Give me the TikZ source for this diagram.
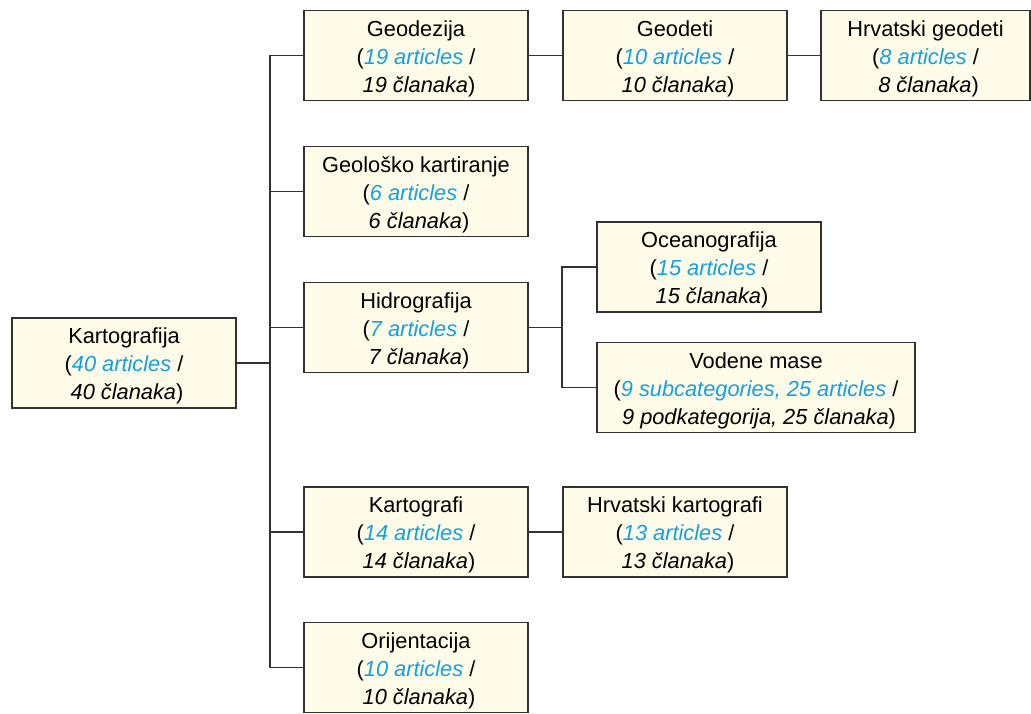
\documentclass[tikz,border=0pt]{standalone}
\usepackage{fontspec}
\setmainfont{Liberation Sans}
\usepackage{xcolor}
\definecolor{artblue}{RGB}{20,160,225}
\definecolor{boxfill}{RGB}{254,251,232}
\definecolor{edgegray}{RGB}{50,50,50}
\newcommand{\blu}[1]{\textcolor{artblue}{\textit{#1}}}
\newcommand{\cattext}[3]{\rule{0pt}{11pt}#1\\(\blu{#2} /\\~\textit{#3})}

\begin{document}
\begin{tikzpicture}[x=0.5pt,y=-0.5pt,
    catbox/.style={draw=edgegray,line width=0.6pt,fill=boxfill,inner sep=0pt,
        minimum width=112pt,minimum height=45pt,align=center,
        font=\fontsize{10.9}{14}\selectfont},
    link/.style={draw=edgegray,line width=0.7pt}]
        \useasboundingbox (0,0) rectangle (1031,713);

        \coordinate (J1) at (270,363);
        \coordinate (J2) at (562,327.5);

        \node[catbox] (kart)  at (124,363)   {\cattext{Kartografija}{40 articles}{40 članaka}};
        \node[catbox] (geod)  at (416,55.5)  {\cattext{Geodezija}{19 articles}{19 članaka}};
        \node[catbox] (geol)  at (416,191.5) {\cattext{Geološko kartiranje}{6 articles}{6 članaka}};
        \node[catbox] (hidro) at (416,327.5) {\cattext{Hidrografija}{7 articles}{7 članaka}};
        \node[catbox] (kartf) at (416,532)   {\cattext{Kartografi}{14 articles}{14 članaka}};
        \node[catbox] (orij)  at (416,667.5) {\cattext{Orijentacija}{10 articles}{10 članaka}};
        \node[catbox] (geodt) at (675,55.5)  {\cattext{Geodeti}{10 articles}{10 članaka}};
        \node[catbox,minimum width=104.5pt] (hgeod) at (925.5,55.5) {\cattext{Hrvatski geodeti}{8 articles}{8 članaka}};
        \node[catbox] (ocean) at (709,267)   {\cattext{Oceanografija}{15 articles}{15 članaka}};
        \node[catbox,minimum width=159pt] (vod) at (756,387.5) {\cattext{Vodene mase}{9 subcategories, 25 articles}{9 podkategorija, 25 članaka}};
        \node[catbox] (hkart) at (675,532)   {\cattext{Hrvatski kartografi}{13 articles}{13 članaka}};

        % main tree
        \draw[link] (kart.east) -- (J1);
        \foreach \c in {geod,geol,hidro,kartf,orij}
            \draw[link] (J1) |- (\c.west);

        % hidrografija branch
        \draw[link] (hidro.east) -- (J2);
        \draw[link] (J2) |- (ocean.west);
        \draw[link] (J2) |- (vod.west);

        % chains
        \draw[link] (geod.east) -- (geodt.west);
        \draw[link] (geodt.east) -- (hgeod.west);
        \draw[link] (kartf.east) -- (hkart.west);
    \end{tikzpicture}
\end{document}
